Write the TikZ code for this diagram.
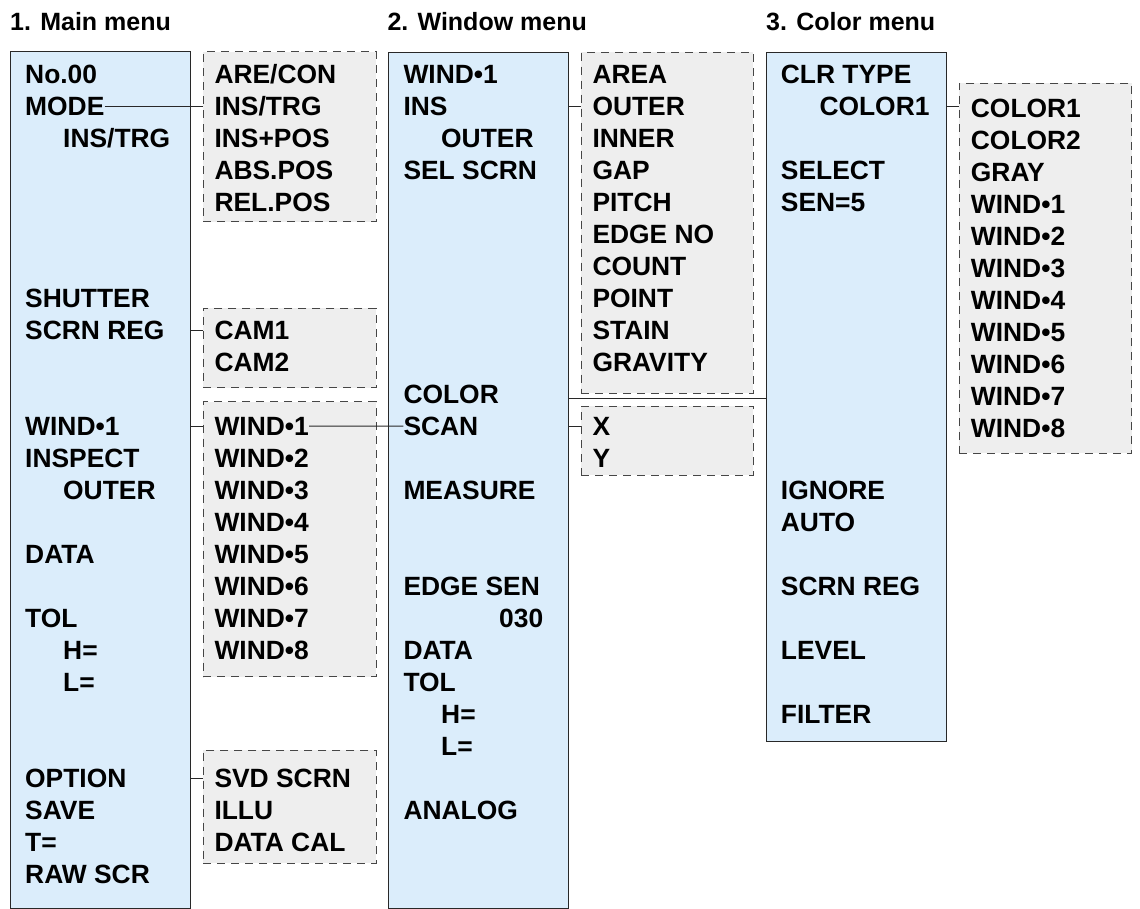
\documentclass[tikz,border=0pt]{standalone}
\usepackage{fontspec}
\setmainfont{Liberation Sans}
\usetikzlibrary{fit}
\definecolor{menublue}{RGB}{219,237,251}
\definecolor{menugray}{RGB}{238,238,238}
\definecolor{menuline}{RGB}{40,40,40}
\definecolor{dashline}{RGB}{70,70,70}
\newcommand{\rowy}[1]{83.3+32*#1}

\begin{document}
\begin{tikzpicture}[
  x=1pt, y=-1pt,
  menutitle/.style={anchor=base west, inner sep=0pt,
                    font=\fontsize{25}{30}\selectfont\bfseries},
  item/.style={anchor=base west, inner sep=0pt,
               font=\fontsize{26.4}{32}\selectfont\bfseries},
  menubox/.style={draw=menuline, fill=menublue, line width=1pt, inner sep=0pt},
  optbox/.style={draw=dashline, fill=menugray, line width=1pt, inner sep=0pt,
                 dash pattern=on 8pt off 6pt},
  link/.style={draw=menuline, line width=1pt}
]
\useasboundingbox (0,0) rectangle (1140,909);

% boxes
\node[menubox, fit={(10,52) (190,908)}] (mainbox) {};
\node[optbox, fit={(203,52) (376,221.7)}] (modebox) {};
\node[optbox, fit={(203,308.3) (376,387.7)}] (cambox) {};
\node[optbox, fit={(203,401.7) (376,676.7)}] (wselbox) {};
\node[optbox, fit={(203,750) (376,863.3)}] (optsbox) {};
\node[menubox, fit={(388.3,52.3) (568.3,908.3)}] (winbox) {};
\node[optbox, fit={(581,52.3) (753.3,393.3)}] (insbox) {};
\node[optbox, fit={(581,406) (753.3,475)}] (scanbox) {};
\node[menubox, fit={(766,52.3) (946.7,741)}] (clrbox) {};
\node[optbox, fit={(959,83.3) (1131.7,453.3)}] (ctypebox) {};

% titles
\node[menutitle] (t1) at (10,31) {1. Main menu};
\node[menutitle] (t2) at (387.3,31) {2. Window menu};
\node[menutitle] (t3) at (766,31) {3. Color menu};

% 1. main menu
\foreach \t/\r in {No.00/0, MODE/1, SHUTTER/7, SCRN REG/8, WIND•1/11,
                   INSPECT/12, DATA/15, TOL/17, OPTION/22, SAVE/23, T=/24,
                   RAW SCR/25}
  \node[item] (main\r) at (25,{\rowy{\r}}) {\t};
\foreach \t/\r in {{INS/TRG}/2, OUTER/13, H=/18, L=/19}
  \node[item] (main\r) at (63,{\rowy{\r}}) {\t};
\foreach \t [count=\r from 0] in {ARE/CON, INS/TRG, INS+POS, ABS.POS, REL.POS}
  \node[item] (mode\r) at (214.3,{\rowy{\r}}) {\t};
\foreach \t [count=\r from 8] in {CAM1, CAM2}
  \node[item] (cam\r) at (214.3,{\rowy{\r}}) {\t};
\foreach \n [count=\r from 11] in {1,...,8}
  \node[item] (wsel\r) at (214.3,{\rowy{\r}}) {WIND•\n};
\foreach \t [count=\r from 22] in {SVD SCRN, ILLU, DATA CAL}
  \node[item] (opt\r) at (214.3,{\rowy{\r}}) {\t};

% 2. window menu
\foreach \t/\r in {WIND•1/0, INS/1, SEL SCRN/3, COLOR/10, SCAN/11, MEASURE/13,
                   EDGE SEN/16, DATA/18, TOL/19, ANALOG/23}
  \node[item] (win\r) at (403.3,{\rowy{\r}}) {\t};
\foreach \t/\r in {OUTER/2, H=/20, L=/21}
  \node[item] (win\r) at (441,{\rowy{\r}}) {\t};
\node[item] (win17) at (499,{\rowy{17}}) {030};
\foreach \t [count=\r from 0] in {AREA, OUTER, INNER, GAP, PITCH, EDGE NO,
                                  COUNT, POINT, STAIN, GRAVITY}
  \node[item] (ins\r) at (592.3,{\rowy{\r}}) {\t};
\foreach \t [count=\r from 11] in {X, Y}
  \node[item] (scan\r) at (592.3,{\rowy{\r}}) {\t};

% 3. color menu
\foreach \t/\r in {CLR TYPE/0, SELECT/3, SEN=5/4, IGNORE/13, AUTO/14,
                   SCRN REG/16, LEVEL/18, FILTER/20}
  \node[item] (clr\r) at (780.7,{\rowy{\r}}) {\t};
\node[item] (clr1) at (819.3,{\rowy{1}}) {COLOR1};
\foreach \t [count=\r from 1] in {COLOR1, COLOR2, GRAY, WIND•1, WIND•2, WIND•3,
                                  WIND•4, WIND•5, WIND•6, WIND•7, WIND•8}
  \node[item] (ctype\r) at (970.7,{\rowy{\r}+2}) {\t};

% connectors
\coordinate (wgap) at (660,398.3);
\draw[link] (main1.east) -- (main1 -| modebox.west);
\draw[link] (main8 -| mainbox.east) -- (main8 -| cambox.west);
\draw[link] (main11 -| mainbox.east) -- (main11 -| wselbox.west);
\draw[link] (main22 -| mainbox.east) -- (main22 -| optsbox.west);
\draw[link] (wsel11.east) -- (win11.west);
\draw[link] (win1 -| winbox.east) -- (win1 -| insbox.west);
\draw[link] (win11 -| winbox.east) -- (win11 -| scanbox.west);
\draw[link] (winbox.east |- wgap) -- (clrbox.west |- wgap);
\draw[link] (clr1 -| clrbox.east) -- (clr1 -| ctypebox.west);
\end{tikzpicture}
\end{document}
